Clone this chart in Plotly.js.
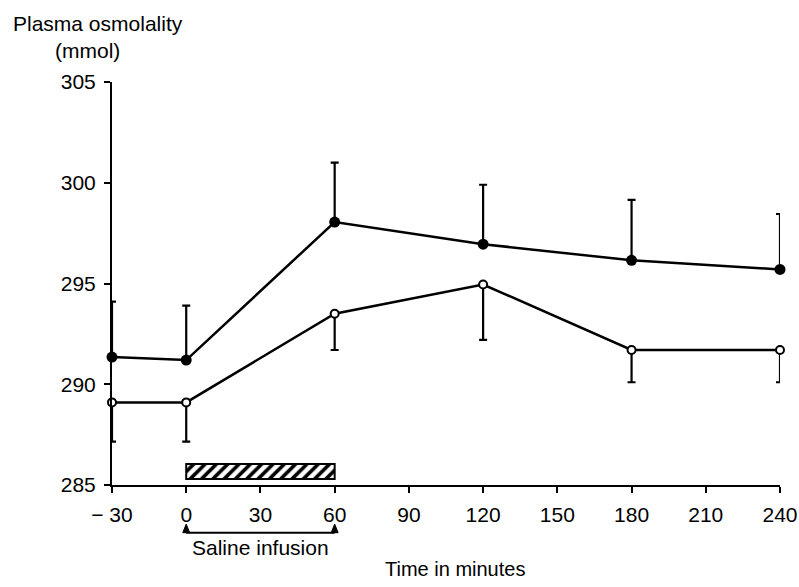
<!DOCTYPE html>
<html>
<head>
<meta charset="utf-8">
<script src="https://cdn.plot.ly/plotly-3.0.1.min.js"></script>
<style>html,body{margin:0;padding:0;background:#fff;}#chart{width:799px;height:587px;}</style>
</head>
<body>
<div id="chart"></div>
<script>
// ---- data ----
var timeMin = [-30, 0, 60, 120, 180, 240];
var filledMean = [291.35, 291.2, 298.05, 296.95, 296.15, 295.7];
var filledErrUp = [2.75, 2.7, 2.95, 2.95, 3.0, 2.75];
var openMean = [289.1, 289.1, 293.5, 294.95, 291.7, 291.7];
var openErrDown = [1.95, 1.95, 1.8, 2.75, 1.6, 1.6];
var infusionWindow = [0, 60];
var infusionLabel = 'Saline infusion';
var xTickVals = [-30, 0, 30, 60, 90, 120, 150, 180, 210, 240];
var xTickText = ['\u2212 30', '0', '30', '60', '90', '120', '150', '180', '210', '240'];
var yTickVals = [285, 290, 295, 300, 305];
var yTitleLines = ['Plasma osmolality', '(mmol)'];
var xTitle = 'Time in minutes';

var FONT = 'Liberation Sans, Arial, Helvetica, sans-serif';
var zeros = timeMin.map(function(){return 0;});

var traces = [
  {
    type: 'bar', orientation: 'h',
    y: [285.67], x: [infusionWindow[1] - infusionWindow[0]], base: [infusionWindow[0]],
    width: [0.75],
    marker: {color: 'white', line: {color: 'black', width: 2},
             pattern: {shape: '/', fgcolor: 'black', bgcolor: 'white', size: 8, solidity: 0.45}},
    hoverinfo: 'skip', showlegend: false
  },
  {
    type: 'scatter', mode: 'lines+markers', x: timeMin, y: filledMean,
    line: {color: 'black', width: 2.5},
    marker: {symbol: 'circle', size: 11, color: 'black'},
    error_y: {type: 'data', symmetric: false, array: filledErrUp, arrayminus: zeros,
              color: 'black', thickness: 2.2, width: 4},
    cliponaxis: false, showlegend: false
  },
  {
    type: 'scatter', mode: 'lines+markers', x: timeMin, y: openMean,
    line: {color: 'black', width: 2.5},
    marker: {symbol: 'circle', size: 8, color: 'white', line: {color: 'black', width: 2}},
    error_y: {type: 'data', symmetric: false, array: zeros, arrayminus: openErrDown,
              color: 'black', thickness: 2.2, width: 4},
    cliponaxis: false, showlegend: false
  }
];

var yBr = -0.1184, yTri = -0.097;
var x0 = infusionWindow[0], x1 = infusionWindow[1], hw = 1.4;

var layout = {
  width: 799, height: 587,
  margin: {l: 112, r: 19, t: 82, b: 102},
  paper_bgcolor: 'white', plot_bgcolor: 'white',
  font: {family: FONT, size: 20, color: 'black'},
  showlegend: false,
  barmode: 'overlay',
  xaxis: {
    range: [-30, 240], tickmode: 'array', tickvals: xTickVals, ticktext: xTickText,
    showgrid: false, zeroline: false, showline: true, linecolor: 'black', linewidth: 2,
    ticks: 'outside', ticklen: 6, tickwidth: 2, tickcolor: 'black',
    ticklabelstandoff: 4, tickfont: {family: FONT, size: 21, color: 'black'}, fixedrange: true
  },
  yaxis: {
    range: [285, 305], tickmode: 'array', tickvals: yTickVals,
    showgrid: false, zeroline: false, showline: true, linecolor: 'black', linewidth: 2,
    ticks: 'outside', ticklen: 6, tickwidth: 2, tickcolor: 'black',
    ticklabelstandoff: 4, tickfont: {family: FONT, size: 21, color: 'black'}, fixedrange: true
  },
  shapes: [
    {type: 'line', xref: 'x', yref: 'paper', x0: x0, x1: x1, y0: yBr, y1: yBr,
     line: {color: 'black', width: 2}},
    {type: 'path', xref: 'x', yref: 'paper',
     path: 'M ' + (x0 - hw) + ' ' + yBr + ' L ' + x0 + ' ' + yTri + ' L ' + (x0 + hw) + ' ' + yBr + ' Z',
     fillcolor: 'black', line: {color: 'black', width: 1}},
    {type: 'path', xref: 'x', yref: 'paper',
     path: 'M ' + (x1 - hw) + ' ' + yBr + ' L ' + x1 + ' ' + yTri + ' L ' + (x1 + hw) + ' ' + yBr + ' Z',
     fillcolor: 'black', line: {color: 'black', width: 1}}
  ],
  annotations: [
    {text: infusionLabel, xref: 'x', yref: 'paper', x: (x0 + x1) / 2, y: -0.155,
     xanchor: 'center', yanchor: 'middle', showarrow: false, font: {family: FONT, size: 21}},
    {text: xTitle, xref: 'paper', yref: 'paper', x: 0.5135, y: -0.208,
     xanchor: 'center', yanchor: 'middle', showarrow: false, font: {family: FONT, size: 20}},
    {text: yTitleLines[0], xref: 'paper', yref: 'paper', x: -0.021, y: 1.145,
     xanchor: 'center', yanchor: 'middle', showarrow: false, font: {family: FONT, size: 21}},
    {text: yTitleLines[1], xref: 'paper', yref: 'paper', x: -0.0374, y: 1.078,
     xanchor: 'center', yanchor: 'middle', showarrow: false, font: {family: FONT, size: 21}}
  ]
};

Plotly.newPlot('chart', traces, layout, {staticPlot: true, displayModeBar: false});
</script>
</body>
</html>
